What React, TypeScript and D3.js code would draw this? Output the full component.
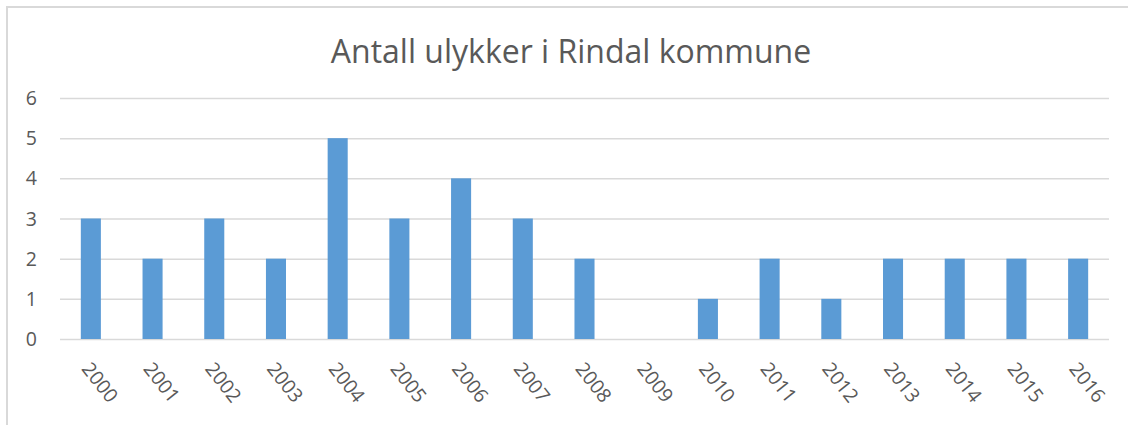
import { useEffect, useRef } from 'react'
import * as d3 from 'd3'

const years = ['2000', '2001', '2002', '2003', '2004', '2005', '2006', '2007', '2008',
    '2009', '2010', '2011', '2012', '2013', '2014', '2015', '2016']
const accidents = [3, 2, 3, 2, 5, 3, 4, 3, 2, 0, 1, 2, 1, 2, 2, 2, 2]
const yTicks = [0, 1, 2, 3, 4, 5, 6]
const title = 'Antall ulykker i Rindal kommune'

const W = 1128
const H = 425

export default function App() {
    const ref = useRef<SVGSVGElement>(null)

    useEffect(() => {
        draw()
    })

    const draw = () => {
        const svg = d3.select(ref.current)
        svg.selectAll('*').remove()

        const font = "'Open Sans', sans-serif"
        const textColor = '#595959'

        // chart frame, continues past the right and bottom edges
        svg.append('rect')
            .attr('x', 7).attr('y', 7)
            .attr('width', W).attr('height', H)
            .attr('fill', '#fff')
            .attr('stroke', '#d9d9d9')
            .attr('stroke-width', 2)

        svg.append('text')
            .attr('x', 571).attr('y', 63)
            .attr('text-anchor', 'middle')
            .attr('font-family', font)
            .attr('font-size', 32)
            .attr('fill', textColor)
            .text(title)

        const x = d3.scaleBand()
            .domain(years)
            .range([60, 1109])
            .paddingInner(0.675)
            .paddingOuter(0.3375)
        const y = d3.scaleLinear()
            .domain([0, 6])
            .range([339, 98])

        // gridlines
        svg.append('g')
            .selectAll('line')
            .data(yTicks)
            .enter()
            .append('line')
            .attr('x1', 60).attr('x2', 1109)
            .attr('y1', d => y(d) + 0.5).attr('y2', d => y(d) + 0.5)
            .attr('stroke', '#d9d9d9')
            .attr('stroke-width', 1.5)

        svg.append('g')
            .selectAll('text')
            .data(yTicks)
            .enter()
            .append('text')
            .attr('x', 37)
            .attr('y', d => y(d))
            .attr('dy', '0.36em')
            .attr('text-anchor', 'end')
            .attr('font-family', font)
            .attr('font-size', 19.5)
            .attr('fill', textColor)
            .text(d => d)

        svg.append('g')
            .selectAll('rect')
            .data(accidents)
            .enter()
            .append('rect')
            .attr('x', (d, i) => x(years[i]))
            .attr('y', d => y(d))
            .attr('width', x.bandwidth())
            .attr('height', d => y(0) - y(d))
            .attr('fill', '#5b9bd5')

        // rotated year labels
        svg.append('g')
            .selectAll('text')
            .data(years)
            .enter()
            .append('text')
            .attr('transform', d => {
                const cx = x(d) + x.bandwidth() / 2 - 10
                return `translate(${cx},369) rotate(52)`
            })
            .attr('font-family', font)
            .attr('font-size', 19.5)
            .attr('fill', textColor)
            .text(d => d)
    }

    return (
        <svg ref={ref} width={W} height={H}
            style={{ position: 'absolute', left: 0, top: 0, display: 'block' }} />
    )
}
